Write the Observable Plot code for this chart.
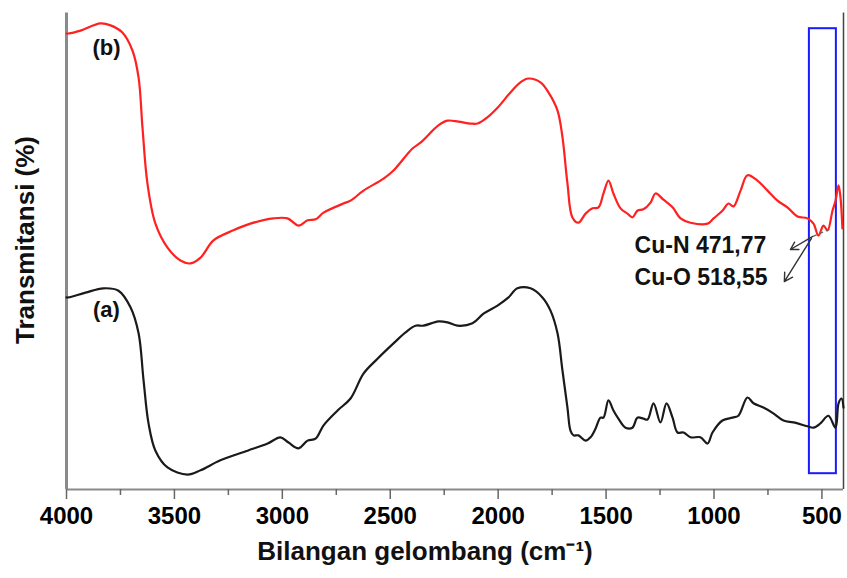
<!DOCTYPE html>
<html>
<head>
<meta charset="utf-8">
<script src="https://cdn.jsdelivr.net/npm/d3@7"></script>
<script src="https://cdn.jsdelivr.net/npm/@observablehq/plot@0.6"></script>
<style>
  html, body { margin: 0; padding: 0; background: #fff; }
  #chart svg { display: block; }
</style>
</head>
<body>
<div id="chart"></div>
<script>
// Wavenumber (cm-1) and relative transmittance for spectrum (b), red
const wnB = [4000,3991,3935,3843,3796,3741,3694,3666,3648,3625,3588,3532,3472,3426,3379,3319,3227,3148,3041,2976,2925,2883,2846,2809,2717,2684,2624,2531,2485,2397,2360,2277,2235,2184,2128,2096,2050,2003,1943,1897,1860,1804,1767,1725,1702,1679,1656,1628,1595,1563,1535,1512,1489,1466,1433,1401,1378,1355,1327,1294,1271,1234,1192,1155,1109,1030,1002,961,933,910,877,845,799,752,706,660,613,567,539,516,493,474,451,437,423,414,405];
const tB = [95.2,95.2,95.8,97.3,96.9,95.4,91.6,86.0,75.6,63.9,55.5,50.5,47.8,47.2,48.4,52.0,54.1,55.5,56.6,56.6,55.1,56.2,56.4,57.8,59.7,60.3,62.4,64.9,66.6,71.2,72.4,76.0,77.0,76.8,76.4,76.4,77.7,79.7,82.9,85.0,85.8,85.0,82.9,79.1,73.5,63.9,56.8,55.7,57.6,58.7,58.9,61.8,64.5,61.8,58.7,57.6,56.8,58.2,58.5,59.9,61.8,60.5,58.9,56.6,55.7,55.5,56.6,58.2,59.7,59.1,62.4,65.6,64.5,62.4,60.3,58.9,57.0,56.6,55.5,53.0,55.1,54.1,58.2,60.3,63.5,61.0,54.5];

// Spectrum (a), black
const wnA = [4000,3991,3912,3829,3759,3703,3666,3643,3620,3588,3532,3439,3379,3287,3161,3068,3009,2971,2925,2883,2846,2809,2744,2684,2624,2559,2485,2429,2383,2346,2277,2235,2189,2119,2068,2003,1952,1911,1850,1795,1758,1725,1702,1679,1665,1651,1628,1595,1572,1549,1526,1512,1489,1466,1443,1410,1378,1355,1327,1308,1280,1248,1220,1192,1169,1141,1109,1063,1030,1007,961,914,887,845,817,771,725,678,632,567,539,507,470,437,423,409,400];
const tA = [40.1,40.1,41.1,42.0,41.5,38.0,32.6,22.8,13.8,8.1,4.6,3.1,4.0,6.1,8.1,9.6,10.9,9.8,8.6,10.2,10.6,13.4,16.5,19.0,24.2,27.3,30.5,32.8,34.2,34.2,35.1,34.9,34.2,34.7,36.7,38.4,40.1,42.0,42.0,40.1,37.4,32.6,24.8,17.1,12.3,11.3,11.3,10.2,10.9,12.7,15.0,15.0,18.6,16.5,14.8,12.9,12.9,15.0,14.8,14.6,18.0,14.0,18.0,15.0,11.9,11.9,10.9,10.9,9.6,11.9,14.4,15.0,15.4,19.2,18.0,17.1,15.9,14.4,14.0,13.2,12.9,13.8,15.4,12.9,18.0,19.0,17.1];

const majorTicks = [4000,3500,3000,2500,2000,1500,1000,500];
const minorTicks = [3750,3250,2750,2250,1750,1250,750];

const seriesLabels = ["(b)", "(a)"];
const annotations = ["Cu-N 471,77", "Cu-O 518,55"];
const highlightRange = [558, 433];

const specB = wnB.map((w, i) => ({wn: w, t: tB[i]}));
const specA = wnA.map((w, i) => ({wn: w, t: tA[i]}));

const labelRows = [
  {wn: 3815, t: 92.1, text: seriesLabels[0]},
  {wn: 3815, t: 37.4, text: seriesLabels[1]}
];
const annoRows = [
  {wn: 1368, t: 50.9, text: annotations[0]},
  {wn: 1368, t: 44.3, text: annotations[1]}
];

const chart = Plot.plot({
  width: 847,
  height: 578,
  marginLeft: 66,
  marginRight: 4,
  marginTop: 10,
  marginBottom: 89,
  style: {fontFamily: "'Liberation Sans', Arial, sans-serif", background: "#fff"},
  x: {domain: [4000, 400], label: null},
  y: {domain: [0, 100], axis: null},
  marks: [
    // frame
    Plot.ruleX([4000], {y1: 0, y2: 99.5, stroke: "#8a8a8a", strokeWidth: 3}),
    Plot.ruleX([400], {y1: 0, y2: 99.5, stroke: "#444", strokeWidth: 1.5}),
    Plot.ruleY([0], {stroke: "#8a8a8a", strokeWidth: 2}),
    // x axis
    Plot.axisX({ticks: minorTicks, tickSize: 6, text: null, stroke: "#666", strokeWidth: 1.5}),
    Plot.axisX({ticks: majorTicks, tickSize: 10, tickPadding: 7, stroke: "#666", strokeWidth: 1.5,
      fontSize: 24, fontWeight: "bold", fill: "#000", tickFormat: d => String(d),
      fontFamily: "'Liberation Sans Narrow', 'Arial Narrow', sans-serif", label: null}),
    // highlight box
    Plot.rect([{x1: highlightRange[0], x2: highlightRange[1], y1: 3.3, y2: 96.2}],
      {x1: "x1", x2: "x2", y1: "y1", y2: "y2", fill: "none", stroke: "#1a1aff", strokeWidth: 2}),
    // spectra
    Plot.line(specB, {x: "wn", y: "t", stroke: "#ff2020", strokeWidth: 2.2, curve: "catmull-rom"}),
    Plot.line(specA, {x: "wn", y: "t", stroke: "#1a1a1a", strokeWidth: 2.2, curve: "catmull-rom"}),
    // annotation arrows
    Plot.link([{x1: 465, y1: 54.3, x2: 544, y2: 52.8}],
      {x1: "x1", y1: "y1", x2: "x2", y2: "y2", stroke: "#666", strokeWidth: 1.3, strokeDasharray: "4,3"}),
    Plot.arrow([{x1: 544, y1: 52.8, x2: 646, y2: 50.1}, {x1: 549, y1: 52.4, x2: 674, y2: 43.4}],
      {x1: "x1", y1: "y1", x2: "x2", y2: "y2", stroke: "#333", strokeWidth: 1.4, headLength: 10}),
    Plot.text(annoRows, {x: "wn", y: "t", text: "text", textAnchor: "start",
      fontSize: 23, fontWeight: "bold", fill: "#111"}),
    Plot.text(labelRows, {x: "wn", y: "t", text: "text", fontSize: 22, fontWeight: "bold", fill: "#111"}),
    // axis titles
    Plot.text(["Bilangan gelombang (cm\u207B\u00B9)"], {frameAnchor: "bottom", dx: -30, dy: 70, fontSize: 26,
      fontWeight: "bold", fill: "#111", textAnchor: "middle"}),
    Plot.text(["Transmitansi (%)"], {frameAnchor: "left", textAnchor: "middle", dx: -41, dy: -10, rotate: -90,
      fontSize: 26, fontWeight: "bold", fill: "#111"})
  ]
});
document.getElementById("chart").appendChild(chart);
</script>
</body>
</html>
